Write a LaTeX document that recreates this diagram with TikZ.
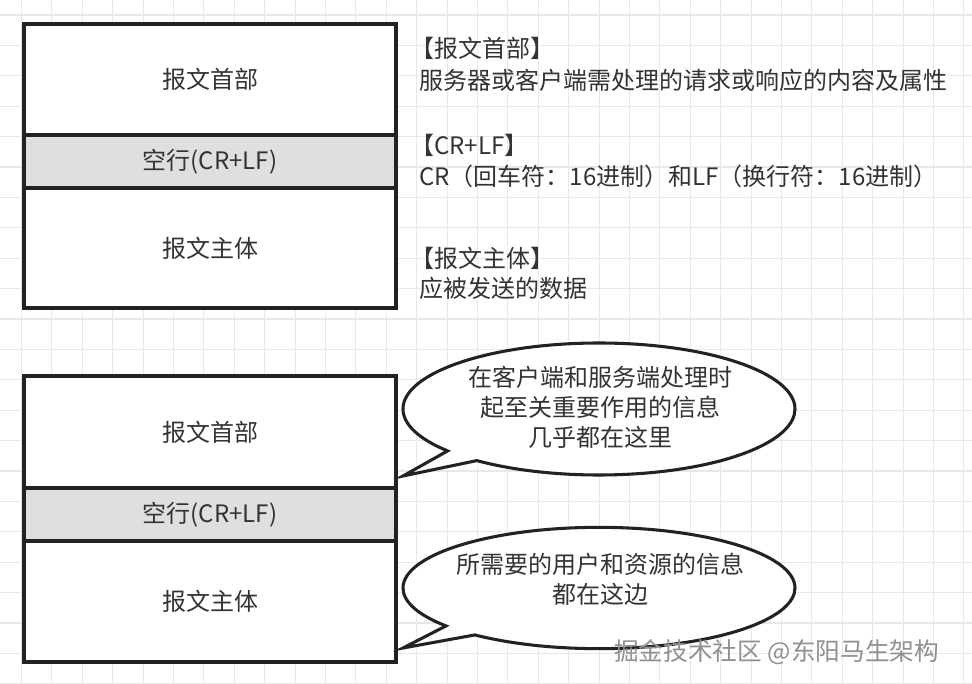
\documentclass[tikz,border=0pt]{standalone}
\usepackage{fontspec}
\setmainfont{Noto Sans CJK SC}
\usetikzlibrary{shapes.callouts}
\definecolor{gridc}{HTML}{E8E8E8}
\definecolor{linec}{HTML}{222222}
\definecolor{txtc}{HTML}{333333}
\definecolor{rowgray}{HTML}{DFDFDF}
\definecolor{wmark}{HTML}{909090}
\tikzset{
  seg/.style={draw=linec, line width=2.3pt, fill=white, minimum width=279pt, inner sep=0pt, text=txtc, font=\fontsize{18pt}{22pt}\selectfont},
  blankrow/.style={seg, fill=rowgray},
  note/.style={anchor=west, inner sep=0pt, text=txtc, font=\fontsize{18pt}{22pt}\selectfont},
  bubble/.style={ellipse callout, draw=linec, line width=2.3pt, fill=white, inner sep=0pt, minimum width=294pt, callout pointer arc=12},
  btext/.style={align=center, inner sep=0pt, text=txtc, font=\fontsize{18pt}{22.5pt}\selectfont}
}
\begin{document}
\begin{tikzpicture}[x=0.75pt,y=-0.75pt]
\useasboundingbox (0,0) rectangle (972,684);
\fill[white] (0,0) rectangle (972,684);
\foreach \i in {0,...,31} \draw[gridc, line width=0.8pt] ({21.5+30.4*\i},0) -- ++(0,684);
\foreach \j in {0,...,22} \draw[gridc, line width=0.8pt] (0,{15+30.4*\j}) -- ++(972,0);

% top stack
\node[seg, minimum height=83.25pt] (head1) at (210,79.5) {\raisebox{-2pt}{报文首部}};
\node[blankrow, minimum height=39.75pt] (blank1) at (210,161.5) {空行(CR+LF)};
\node[seg, minimum height=90pt] (body1) at (210,248) {报文主体};

% right notes
\node[note] (n1a) at (410,48) {【报文首部】};
\node[note] (n1b) at (419,80) {服务器或客户端需处理的请求或响应的内容及属性};
\node[note] (n2a) at (410,145) {【CR+LF】};
\node[note] (n2b) at (419,176) {CR（回车符：16进制）和LF（换行符：16进制）};
\node[note] (n3a) at (410,258) {【报文主体】};
\node[note] (n3b) at (419,288) {应被发送的数据};

% bottom stack
\node[seg, minimum height=84pt] (head2) at (210,432) {\raisebox{-3pt}{报文首部}};
\node[blankrow, minimum height=39.75pt] (blank2) at (210,514.5) {空行(CR+LF)};
\node[seg, minimum height=90.75pt] (body2) at (210,601.5) {报文主体};

% bubbles
\coordinate (tip1) at (403,476);
\coordinate (tip2) at (403,648);
\node[bubble, minimum height=99pt, callout absolute pointer={(tip1)}] (bub1) at (599,409) {};
\node[btext] (bt1) at (600,407) {在客户端和服务端处理时\\起至关重要作用的信息\\几乎都在这里};
\node[bubble, minimum height=91pt, callout absolute pointer={(tip2)}] (bub2) at (599,588) {};
\node[btext] (bt2) at (600,579) {所需要的用户和资源的信息\\都在这边};

% watermark
\node[anchor=west, inner sep=0pt, text=wmark, font=\fontsize{18.5pt}{20pt}\selectfont] (wm) at (614,652) {掘金技术社区 @东阳马生架构};
\end{tikzpicture}
\end{document}
